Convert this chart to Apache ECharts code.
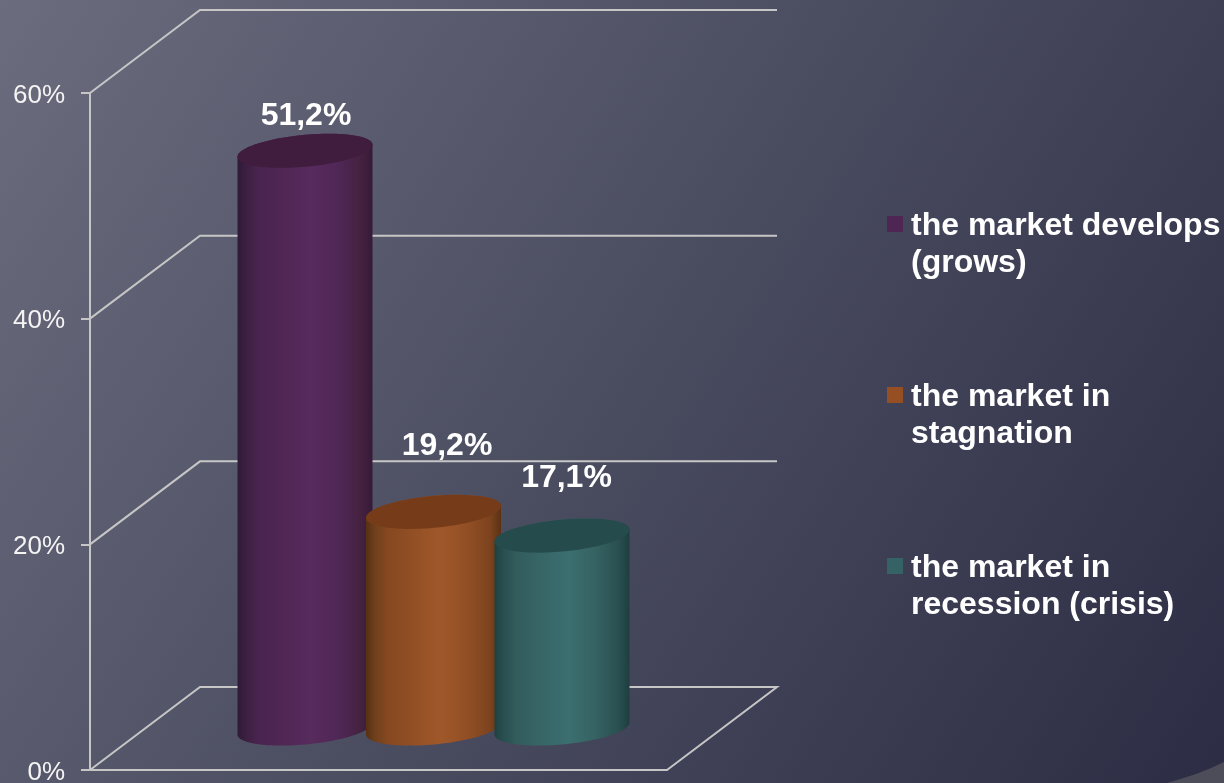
<!DOCTYPE html>
<html>
<head>
<meta charset="utf-8">
<style>html,body{margin:0;padding:0;background:#2d2e45}#chart{width:1224px;height:783px}</style>
<script src="https://cdn.jsdelivr.net/npm/echarts@6/dist/echarts.min.js"></script>
</head>
<body>
<div id="chart"></div>
<script>
// Survey answers, percent of respondents
const seriesNames = ['the market develops\n(grows)', 'the market in\nstagnation', 'the market in\nrecession (crisis)'];
const seriesValues = [51.2, 19.2, 17.1];
const wallTicks = [0, 20, 40, 60];

// Cylinder shading, left to right across the side of each one
const shadeStops = [0, 0.07, 0.16, 0.32, 0.55, 0.76, 0.92, 1];
const purpleShade = ['#2f1a38', '#3d2042', '#4a2450', '#4f2654', '#572b5d', '#4f2755', '#44213f', '#351a38'];
const orangeShade = ['#573014', '#70401c', '#864820', '#904e24', '#a0582a', '#914e24', '#7c431e', '#5a3214'];
const tealShade = ['#1f4040', '#2a4f50', '#325b5c', '#376465', '#3c6f70', '#356161', '#2a4f50', '#1e3e3f'];
const sideShades = [purpleShade, orangeShade, tealShade];
const capColor = ['#401d3e', '#763c1a', '#264b4d'];
const swatchColor = ['#4f2653', '#964f23', '#356365'];

// Value label nudges from the top of each cylinder
const labelDx = [1, 13.5, 4.5];
const labelDy = [-35, -66, -57];

// Oblique projection of the 3D plot box
const DEPTH_X = 110, DEPTH_Y = -83;
const WALL_LINE = '#c6c6c6';
const RADIUS_X = 67.5, RADIUS_Y = 16, SKEW = 6, SPACING = 128.5;

function ellipsePoint(cx, cy, t) {
  return [cx + RADIUS_X * Math.cos(t), cy - SKEW * Math.cos(t) + RADIUS_Y * Math.sin(t)];
}

// Draws one cylinder from its value through the cartesian scale
function renderCylinder(index) {
  return function (params, api) {
    const value = api.value(1);
    const base = api.coord([0, 0]);
    const top = api.coord([0, value]);
    const cx = base[0] + DEPTH_X / 2 + (index - 1) * SPACING;
    const yBase = base[1] + DEPTH_Y / 2;
    const yTop = top[1] + DEPTH_Y / 2;

    const side = [ellipsePoint(cx, yTop, 0)];
    for (let i = 0; i <= 60; i++) side.push(ellipsePoint(cx, yBase, Math.PI * i / 60));
    side.push(ellipsePoint(cx, yTop, Math.PI));
    for (let i = 0; i <= 60; i++) side.push(ellipsePoint(cx, yTop, Math.PI + Math.PI * i / 60));

    const cap = [];
    for (let i = 0; i < 120; i++) cap.push(ellipsePoint(cx, yTop, 2 * Math.PI * i / 120));

    return {
      type: 'group',
      children: [
        {
          type: 'polygon',
          shape: { points: side },
          style: {
            fill: new echarts.graphic.LinearGradient(0, 0, 1, 0,
              shadeStops.map((offset, k) => ({ offset: offset, color: sideShades[index][k] })))
          }
        },
        { type: 'polygon', shape: { points: cap }, style: { fill: capColor[index] } },
        {
          type: 'text',
          style: {
            text: value.toFixed(1).replace('.', ',') + '%',
            x: cx + labelDx[index],
            y: yTop + labelDy[index],
            align: 'center',
            verticalAlign: 'middle',
            fill: '#ffffff',
            font: 'bold 32px "Liberation Sans", Arial, sans-serif'
          }
        }
      ]
    };
  };
}

// Back wall gridlines with their side-wall returns; the lowest tick also closes the floor
function renderWall(params, api) {
  const tick = api.value(1);
  const front = api.coord([0, tick]);
  const x0 = params.coordSys.x;
  const x1 = x0 + params.coordSys.width;
  const pts = [[x0, front[1]], [x0 + DEPTH_X, front[1] + DEPTH_Y], [x1 + DEPTH_X, front[1] + DEPTH_Y]];
  if (tick === 0) pts.push([x1, front[1]]);
  return {
    type: 'polyline',
    shape: { points: pts },
    style: { fill: 'none', stroke: WALL_LINE, lineWidth: 2 }
  };
}

const chart = echarts.init(document.getElementById('chart'), null, { renderer: 'canvas' });
chart.setOption({
  animation: false,
  backgroundColor: {
    type: 'linear', x: 0, y: 0, x2: 1, y2: 1,
    colorStops: [
      { offset: 0, color: '#6b6c7e' },
      { offset: 0.5, color: '#4a4c60' },
      { offset: 1, color: '#2c2d44' }
    ]
  },
  grid: { left: 90, top: 93, width: 577, height: 677, containLabel: false, outerBoundsMode: 'none' },
  xAxis: {
    type: 'category',
    data: [''],
    axisTick: { show: false },
    axisLabel: { show: false },
    axisLine: { lineStyle: { color: WALL_LINE, width: 2 } }
  },
  yAxis: {
    type: 'value',
    min: 0,
    max: 60,
    interval: 20,
    splitLine: { show: false },
    axisLine: { show: true, lineStyle: { color: WALL_LINE, width: 2 } },
    axisTick: { show: true, length: 9, lineStyle: { color: WALL_LINE, width: 2 } },
    axisLabel: {
      formatter: '{value}%',
      margin: 25,
      verticalAlign: 'top',
      lineHeight: 5,
      color: '#f4f4f4',
      fontSize: 26,
      fontFamily: '"Liberation Sans", Arial, sans-serif'
    }
  },
  legend: {
    orient: 'vertical',
    left: 887,
    top: 208,
    padding: 0,
    itemGap: 97,
    itemWidth: 16,
    itemHeight: 58,
    selectedMode: false,
    // Swatch sits beside the first line of the wrapped name
    icon: 'path://M0 0H16V16H0Z M16 58L16 58',
    data: seriesNames,
    textStyle: {
      color: '#ffffff',
      fontSize: 32,
      fontWeight: 'bold',
      lineHeight: 37,
      padding: [0, 0, 0, 3],
      fontFamily: '"Liberation Sans", Arial, sans-serif'
    }
  },
  // Slide-template swoosh peeking in at the lower right corner
  graphic: [{
    type: 'polygon',
    silent: true,
    z: 0,
    shape: { points: [[1167, 783], [1182, 778.5], [1196, 774], [1210, 768.5], [1224, 762], [1224, 783]] },
    style: { fill: '#4d4c59' }
  }],
  series: [
    {
      type: 'custom',
      name: 'wall',
      coordinateSystem: 'cartesian2d',
      clip: false,
      silent: true,
      z: 1,
      renderItem: renderWall,
      data: wallTicks.map(t => [0, t])
    }
  ].concat(seriesNames.map((name, i) => ({
    type: 'custom',
    name: name,
    coordinateSystem: 'cartesian2d',
    clip: false,
    z: 2 + i,
    itemStyle: { color: swatchColor[i] },
    renderItem: renderCylinder(i),
    data: [[0, seriesValues[i]]]
  })))
});
</script>
</body>
</html>
